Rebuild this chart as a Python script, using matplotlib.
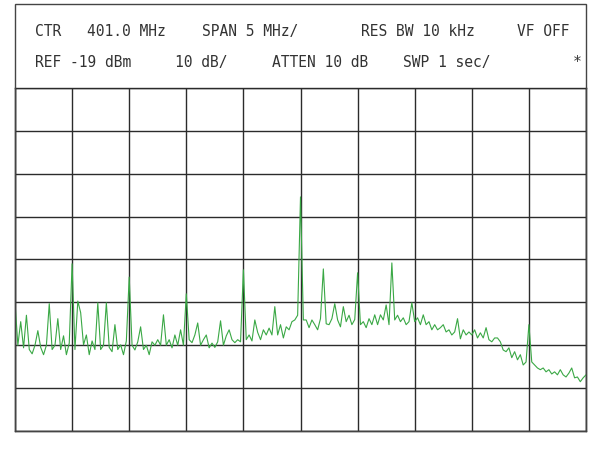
import numpy as np
import matplotlib
matplotlib.use('Agg')
import matplotlib.pyplot as plt
from matplotlib.patches import Rectangle

# analyzer settings
center_mhz = 401.0
span_mhz = 5.0
ref_dbm = -19
db_per_div = 10

# trace, 201 points across the span (dBm)
level_dbm = [
    -69.0, -79.0, -73.5, -79.6, -72.0, -80.0, -81.0, -79.0, -75.6, -79.5,
    -81.2, -79.0, -69.3, -80.0, -79.0, -72.8, -80.0, -76.8, -81.2, -78.5,
    -60.0, -80.0, -68.7, -71.4, -78.9, -76.6, -81.2, -78.0, -80.0, -69.1,
    -80.0, -79.0, -69.1, -79.5, -80.5, -74.2, -80.0, -78.9, -81.2, -78.0,
    -63.1, -79.0, -80.1, -78.2, -74.7, -80.0, -79.0, -81.2, -78.2, -79.0,
    -77.7, -79.0, -71.9, -79.0, -77.7, -79.6, -76.6, -79.0, -75.4, -79.0,
    -67.0, -77.7, -78.4, -76.6, -73.8, -79.0, -77.7, -76.6, -79.6, -78.5,
    -79.5, -78.2, -73.3, -79.0, -76.8, -75.4, -77.7, -78.4, -77.7, -78.2,
    -61.4, -77.7, -76.6, -78.0, -73.1, -76.0, -77.7, -75.4, -76.6, -75.0,
    -76.6, -70.0, -76.6, -74.2, -77.3, -74.7, -75.4, -73.5, -73.1, -72.0,
    -44.4, -73.1, -73.1, -74.9, -73.1, -74.2, -75.4, -72.8, -61.2, -74.0,
    -74.2, -72.8, -69.3, -73.1, -74.7, -70.0, -73.5, -72.0, -74.2, -73.0,
    -62.1, -74.2, -73.5, -74.9, -72.8, -74.2, -71.9, -74.2, -71.9, -73.1,
    -69.6, -74.2, -59.8, -73.1, -72.0, -73.5, -72.6, -74.2, -73.5, -69.1,
    -73.5, -72.6, -74.2, -71.9, -74.2, -73.5, -75.4, -74.2, -75.4, -74.9,
    -74.2, -75.9, -75.4, -76.6, -75.9, -72.8, -77.5, -75.4, -76.6, -75.9,
    -76.6, -75.4, -77.3, -76.1, -77.3, -74.9, -77.7, -78.2, -77.3, -77.3,
    -78.2, -80.1, -80.5, -79.6, -81.9, -80.5, -82.4, -81.2, -83.6, -82.9,
    -74.2, -82.9, -83.6, -84.3, -84.7, -84.3, -85.2, -84.7, -85.7, -85.2,
    -85.9, -84.7, -85.9, -86.4, -85.5, -84.3, -86.6, -86.4, -87.5, -86.6,
    -85.9,
]
freq_mhz = np.linspace(center_mhz - span_mhz / 2, center_mhz + span_mhz / 2, len(level_dbm))

header_row1 = [(35, 'CTR'), (87, '401.0 MHz'), (202, 'SPAN 5 MHz/'),
               (361, 'RES BW 10 kHz'), (517, 'VF OFF')]
header_row2 = [(35, 'REF -19 dBm'), (175, '10 dB/'), (272, 'ATTEN 10 dB'),
               (403, 'SWP 1 sec/'), (573, '*')]

W, H = 600, 450
fig = plt.figure(figsize=(6, 4.5), dpi=100)
fig.patch.set_facecolor('white')

ax = fig.add_axes([15 / W, 1 - 431 / H, 571 / W, 343 / H])
ax.set_xlim(freq_mhz[0], freq_mhz[-1])
ax.set_ylim(ref_dbm - 8 * db_per_div, ref_dbm)
ax.set_xticks(np.arange(freq_mhz[0], freq_mhz[-1] + 0.01, span_mhz / 10))
ax.set_yticks(np.arange(ref_dbm - 8 * db_per_div, ref_dbm + 1, db_per_div))
ax.grid(True, color='#2b2b2b', linewidth=1.0)
ax.tick_params(length=0, labelbottom=False, labelleft=False)
for s in ax.spines.values():
    s.set_color('#2b2b2b')
    s.set_linewidth(1.0)
ax.set_axisbelow(True)
ax.plot(freq_mhz, level_dbm, color='#3aa845', linewidth=0.8, zorder=3)

# outer frame around header + graticule
fig.add_artist(Rectangle((15 / W, 1 - 431 / H), 571 / W, 427 / H,
                         transform=fig.transFigure, fill=False,
                         edgecolor='#444444', linewidth=1.0))

for x, s in header_row1:
    fig.text(x / W, 1 - 31.5 / H, s, ha='left', va='center',
             family='DejaVu Sans Mono', fontsize=10.5, color='#333333')
for x, s in header_row2:
    fig.text(x / W, 1 - 62.5 / H, s, ha='left', va='center',
             family='DejaVu Sans Mono', fontsize=10.5, color='#333333')

fig.savefig('out.png', dpi=100, facecolor='white')
